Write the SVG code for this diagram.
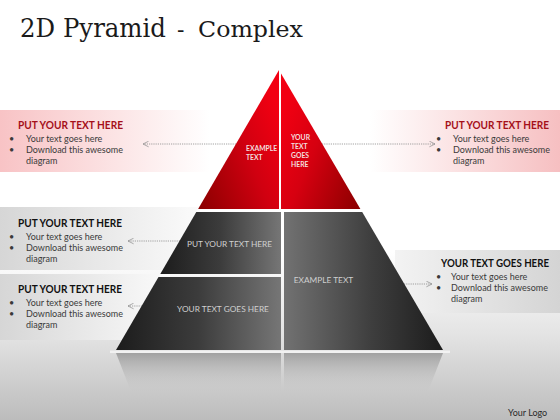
<svg xmlns="http://www.w3.org/2000/svg" width="560" height="420" viewBox="0 0 560 420">
<defs>
<linearGradient id="bg" x1="0" y1="0" x2="0" y2="1">
<stop offset="0" stop-color="#ffffff"/><stop offset="0.6" stop-color="#ffffff"/><stop offset="0.8" stop-color="#e3e3e3"/><stop offset="1" stop-color="#bcbcbc"/>
</linearGradient>
<linearGradient id="pinkL" x1="0" y1="0" x2="1" y2="0">
<stop offset="0" stop-color="#f8c3c5"/><stop offset="1" stop-color="#ffffff"/>
</linearGradient>
<linearGradient id="pinkR" x1="0" y1="0" x2="1" y2="0">
<stop offset="0" stop-color="#ffffff"/><stop offset="1" stop-color="#f6bfc1"/>
</linearGradient>
<linearGradient id="grayL" x1="0" y1="0" x2="1" y2="0">
<stop offset="0" stop-color="#d6d6d6"/><stop offset="1" stop-color="#fbfbfb"/>
</linearGradient>
<linearGradient id="grayR" x1="0" y1="0" x2="1" y2="0">
<stop offset="0" stop-color="#f3f3f3"/><stop offset="1" stop-color="#d4d4d4"/>
</linearGradient>
<linearGradient id="redL" x1="0" y1="1" x2="1" y2="0.3">
<stop offset="0" stop-color="#8a0000"/><stop offset="0.6" stop-color="#d00010"/><stop offset="1" stop-color="#f20012"/>
</linearGradient>
<linearGradient id="redR" x1="0" y1="0.3" x2="1" y2="1">
<stop offset="0" stop-color="#f20012"/><stop offset="0.4" stop-color="#d60010"/><stop offset="1" stop-color="#8a0000"/>
</linearGradient>
<linearGradient id="dkL" x1="0" y1="0" x2="1" y2="0">
<stop offset="0" stop-color="#1c1c1c"/><stop offset="0.5" stop-color="#3c3c3c"/><stop offset="1" stop-color="#767676"/>
</linearGradient>
<linearGradient id="dkR" x1="0" y1="0" x2="1" y2="0">
<stop offset="0" stop-color="#727272"/><stop offset="0.55" stop-color="#3e3e3e"/><stop offset="1" stop-color="#1c1c1c"/>
</linearGradient>
<linearGradient id="refl" x1="0" y1="0" x2="0" y2="1">
<stop offset="0" stop-color="#8e8e8e" stop-opacity="0.75"/><stop offset="1" stop-color="#c8c8c8" stop-opacity="0"/>
</linearGradient>
<marker id="arr" viewBox="0 0 10 10" refX="9" refY="5" markerWidth="7" markerHeight="7" markerUnits="userSpaceOnUse" orient="auto">
<path d="M1,1 L9,5 L1,9" fill="none" stroke="#8a8a8a" stroke-width="1"/>
</marker>
<style>
.title{font-family:"DejaVu Serif","Liberation Serif",serif;fill:#1a1a1a}
.hd{font-family:Lato,"Open Sans","Liberation Sans",sans-serif;font-weight:bold;font-size:11px}
.hr{fill:#a5101a}
.hk{fill:#111}
.bt{font-family:Lato,"Open Sans","Liberation Sans",sans-serif;font-size:9px;fill:#3a3a3a}
.pl{font-family:Lato,"Open Sans","Liberation Sans",sans-serif;fill:#f2dede;font-size:6.8px;font-weight:bold}
.gl{font-family:Lato,"Open Sans","Liberation Sans",sans-serif;fill:#cfcfcf;font-size:8.3px}
.con{fill:none;stroke:#8a8a8a;stroke-width:0.8;stroke-dasharray:1.2 1;marker-end:url(#arr)}
</style>
</defs>
<rect width="560" height="420" fill="url(#bg)"/>
<g id="title">
<text class="title" x="20" y="37" font-size="26" textLength="146" lengthAdjust="spacingAndGlyphs">2D Pyramid</text>
<text class="title" x="177" y="37" font-size="22">-</text>
<text class="title" x="198" y="37" font-size="22" textLength="105" lengthAdjust="spacingAndGlyphs">Complex</text>
</g>
<g id="box-top-left">
<rect x="0" y="110" width="210" height="62" fill="url(#pinkL)"/>
<text class="hd hr" x="18" y="129" textLength="105" lengthAdjust="spacingAndGlyphs">PUT YOUR TEXT HERE</text>
<text class="bt" x="9" y="142">•</text><text class="bt" x="26" y="142">Your text goes here</text>
<text class="bt" x="9" y="153">•</text><text class="bt" x="26" y="153">Download this awesome</text>
<text class="bt" x="26" y="164">diagram</text>
</g>
<g id="box-top-right">
<rect x="370" y="110" width="190" height="62" fill="url(#pinkR)"/>
<text class="hd hr" x="445" y="129" textLength="104" lengthAdjust="spacingAndGlyphs">PUT YOUR TEXT HERE</text>
<text class="bt" x="436" y="142">•</text><text class="bt" x="453" y="142">Your text goes here</text>
<text class="bt" x="436" y="153">•</text><text class="bt" x="453" y="153">Download this awesome</text>
<text class="bt" x="453" y="164">diagram</text>
</g>
<g id="box-mid-left">
<rect x="0" y="207" width="200" height="63" fill="url(#grayL)"/>
<text class="hd hk" x="18" y="227" textLength="104" lengthAdjust="spacingAndGlyphs">PUT YOUR TEXT HERE</text>
<text class="bt" x="9" y="240">•</text><text class="bt" x="26" y="240">Your text goes here</text>
<text class="bt" x="9" y="251">•</text><text class="bt" x="26" y="251">Download this awesome</text>
<text class="bt" x="26" y="262">diagram</text>
</g>
<g id="box-low-left">
<rect x="0" y="274" width="170" height="66" fill="url(#grayL)"/>
<text class="hd hk" x="18" y="293" textLength="104" lengthAdjust="spacingAndGlyphs">PUT YOUR TEXT HERE</text>
<text class="bt" x="9" y="306">•</text><text class="bt" x="26" y="306">Your text goes here</text>
<text class="bt" x="9" y="317">•</text><text class="bt" x="26" y="317">Download this awesome</text>
<text class="bt" x="26" y="328">diagram</text>
</g>
<g id="box-right">
<rect x="395" y="250" width="165" height="63" fill="url(#grayR)"/>
<text class="hd hk" x="441" y="267" textLength="108" lengthAdjust="spacingAndGlyphs">YOUR TEXT GOES HERE</text>
<text class="bt" x="436" y="280">•</text><text class="bt" x="451" y="280">Your text goes here</text>
<text class="bt" x="436" y="291">•</text><text class="bt" x="451" y="291">Download this awesome</text>
<text class="bt" x="451" y="302">diagram</text>
</g>
<g id="connectors">
<path class="con" d="M236,144 H143"/>
<path class="con" d="M322,144 H435"/>
<path class="con" d="M180,241 H128"/>
<path class="con" d="M142,306 H128"/>
<path class="con" d="M404,284 H432"/>
</g>
<g id="reflection">
<rect x="110" y="350.5" width="340" height="2.5" fill="#f2f2f2"/>
<polygon points="116,353 281,353 281,394 132,394" fill="url(#refl)"/>
<polygon points="284,353 443,353 427,394 284,394" fill="url(#refl)"/>
</g>
<g id="top-left">
<polygon points="279,70 279,209 198.1,209" fill="url(#redL)"/>
<text class="pl" x="246" y="151">EXAMPLE</text>
<text class="pl" x="246" y="160">TEXT</text>
</g>
<g id="top-right">
<polygon points="281,73.4 281,209 360.4,209" fill="url(#redR)"/>
<text class="pl" x="291" y="140">YOUR</text>
<text class="pl" x="291" y="149">TEXT</text>
<text class="pl" x="291" y="158">GOES</text>
<text class="pl" x="291" y="167">HERE</text>
</g>
<g id="mid-left">
<polygon points="196.3,212 281,212 281,274 160.3,274" fill="url(#dkL)"/>
<text class="gl" x="229.5" y="247" text-anchor="middle">PUT YOUR TEXT HERE</text>
</g>
<g id="low-left">
<polygon points="158.5,277 281,277 281,350 116,350" fill="url(#dkL)"/>
<text class="gl" x="223" y="312" text-anchor="middle">YOUR TEXT GOES HERE</text>
</g>
<g id="right">
<polygon points="284,212 362.2,212 443,350 284,350" fill="url(#dkR)"/>
<text class="gl" x="323.5" y="283" text-anchor="middle">EXAMPLE  TEXT</text>
</g>
<g id="logo">
<text class="bt" x="508" y="416" style="fill:#2a2a2a">Your Logo</text>
</g>
</svg>
